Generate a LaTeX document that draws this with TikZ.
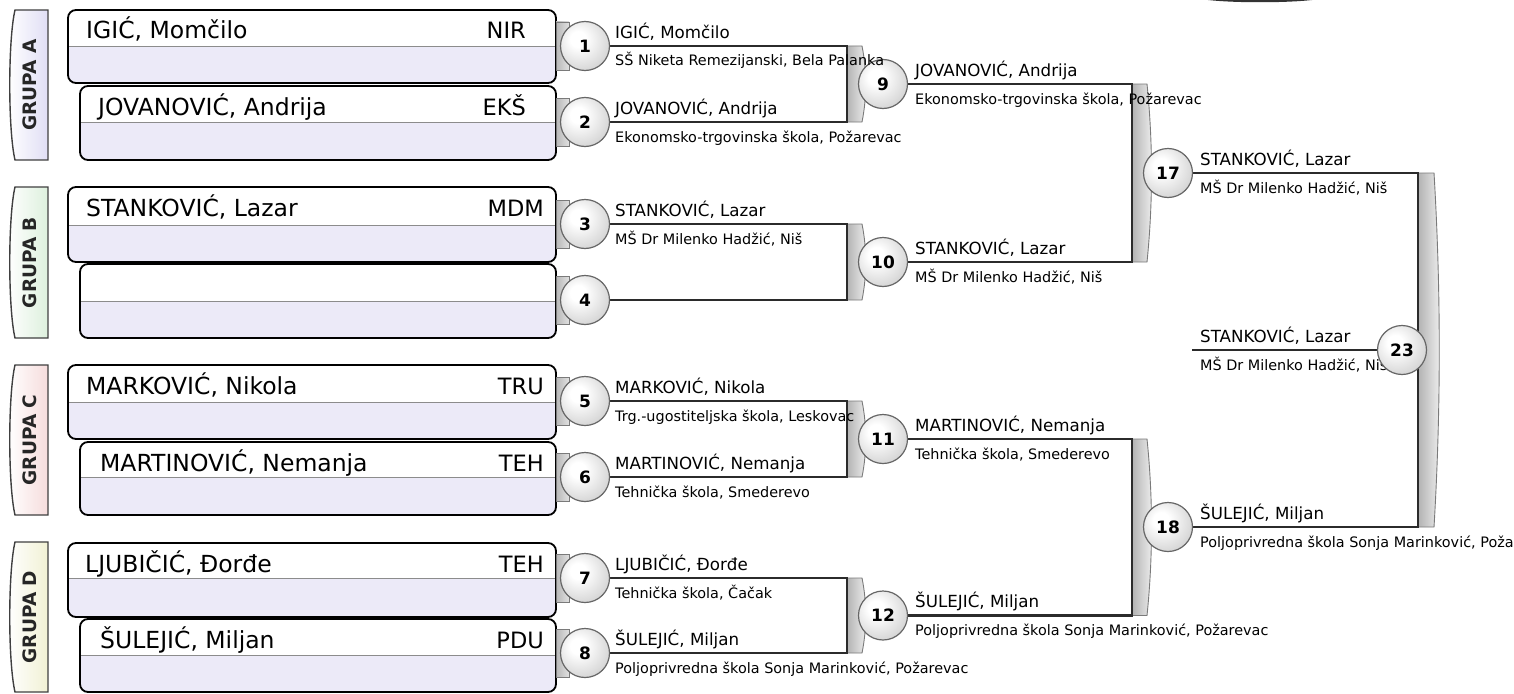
\documentclass[tikz,border=0pt]{standalone}
\usepackage{fontspec}
\setmainfont{DejaVu Sans}
\usetikzlibrary{calc}
\definecolor{lav}{HTML}{ECEAF8}
\definecolor{grpA}{HTML}{E0DEF5}
\definecolor{grpB}{HTML}{DDF0DD}
\definecolor{grpC}{HTML}{F6DCDC}
\definecolor{grpD}{HTML}{F1F1D4}
\definecolor{conncol}{HTML}{2B2B2B}
\definecolor{tabedge}{HTML}{7A7A7A}
\pgfdeclareradialshading{rball}{\pgfpoint{-8bp}{8bp}}{color(0bp)=(white); color(8bp)=(white); color(30bp)=(black!16); color(50bp)=(black!36); color(70bp)=(black!45)}
\tikzset{
  boxline/.style={draw=black, line width=1.8pt},
  divline/.style={draw=black!45, line width=1pt},
  bname/.style={inner sep=0pt, font=\fontsize{23.5}{27}\selectfont},
  bcode/.style={inner sep=0pt, font=\fontsize{22.5}{26}\selectfont},
  wname/.style={inner sep=0pt, font=\fontsize{16.7}{19}\selectfont},
  wschool/.style={inner sep=0pt, font=\fontsize{14.4}{16}\selectfont},
  rnd/.style={circle, draw=black!60, line width=1.2pt, minimum size=49pt, inner sep=0pt, shading=rball, font=\fontsize{17}{19}\bfseries\selectfont},
  conn/.style={draw=conncol, line width=2.4pt},
  smalltab/.style={draw=tabedge, line width=0.9pt, left color=black!28, right color=black!12},
  brtab/.style={draw=tabedge, line width=0.9pt, left color=black!30, right color=black!6},
  grptab/.style={draw=black!75, line width=1.4pt},
  grptext/.style={inner sep=0pt, rotate=90, font=\fontsize{18.5}{21}\bfseries\selectfont, text=black!85}
}
% #1 id, #2 left x, #3 top, #4 divider, #5 bottom, #6 text x, #7 name, #8 code, #9 code right x
\newcommand\pbox[9]{%
  \begin{scope}
    \clip[rounded corners=8pt] (#2,#3) rectangle (556,#5);
    \fill[white] (#2,#3) rectangle (556,#4);
    \fill[lav] (#2,#4) rectangle (556,#5);
    \draw[divline] (#2,#4) -- (556,#4);
  \end{scope}
  \draw[boxline, rounded corners=8pt] (#2,#3) rectangle (556,#5);
  \node[bname, anchor=base west] (#1n) at (#6,#3+29) {#7};
  \node[bcode, anchor=base east] (#1c) at (#9,#3+29) {#8};
}
% #1 id, #2 top, #3 bottom, #4 fill colour, #5 text
\newcommand\gtab[5]{%
  \path[grptab, left color=white, right color=#4]
    (48,#2) -- (15,#2) .. controls (8,#2+30) and (8,#3-30) .. (15,#3) -- (48,#3) -- cycle;
  \node[grptext] (#1) at (30,{(#2+#3)/2}) {#5};
}
% #1 x, #2 top, #3 bottom, #4 width, #5 bulge
\newcommand\btab[5]{%
  \path[brtab] (#1,#2) -- (#1+#4,#2) .. controls (#1+#4+#5,{#2+(#3-#2)/3}) and (#1+#4+#5,{#3-(#3-#2)/3}) .. (#1+#4,#3) -- (#1,#3) -- cycle;
}
% #1 id, #2 x, #3 line y, #4 name, #5 school
\newcommand\wlab[5]{%
  \node[wname, anchor=base west] (#1a) at (#2,#3-8) {#4};
  \node[wschool, anchor=base west] (#1b) at (#2,#3+20) {#5};
}
\begin{document}
\begin{tikzpicture}[x=1pt, y=-1pt]
\useasboundingbox (0,0) rectangle (1514,693);
\fill[white] (0,0) rectangle (1514,693);

% stray dark shape at top edge
\fill[black!80] (1208,0) .. controls (1235,3) and (1285,3) .. (1312,0) -- cycle;

% group tabs
\gtab{gA}{10}{160}{grpA}{GRUPA A}
\gtab{gB}{187}{338}{grpB}{GRUPA B}
\gtab{gC}{365}{515}{grpC}{GRUPA C}
\gtab{gD}{542}{692}{grpD}{GRUPA D}

% player boxes
\pbox{p1}{68}{10}{47}{83}{86}{IGIĆ, Momčilo}{NIR}{526}
\pbox{p2}{80}{86}{122}{160}{98}{JOVANOVIĆ, Andrija}{EKŠ}{526}
\pbox{p3}{68}{187}{225}{262}{86}{STANKOVIĆ, Lazar}{MDM}{544}
\pbox{p4}{80}{264}{301}{338}{98}{}{}{544}
\pbox{p5}{68}{365}{402}{439}{86}{MARKOVIĆ, Nikola}{TRU}{544}
\pbox{p6}{80}{442}{477}{515}{100}{MARTINOVIĆ, Nemanja}{TEH}{544}
\pbox{p7}{68}{543}{578}{617}{85}{LJUBIČIĆ, Đorđe}{TEH}{544}
\pbox{p8}{80}{619}{655}{692}{100}{ŠULEJIĆ, Miljan}{PDU}{544}

% small tabs at box ends
\foreach \yy in {46,122,224,300,401,477,578,653}{
  \path[smalltab] (556,\yy-24) rectangle (569,\yy+24);
}

% junction columns
\coordinate (j1) at (847,0);
\coordinate (j2) at (1132,0);
\coordinate (j3) at (1418,0);
\coordinate (f23) at (1192,350);

% circle positions
\coordinate (k1) at (585,46);
\coordinate (k2) at (585,122);
\coordinate (k3) at (585,224);
\coordinate (k4) at (585,300);
\coordinate (k5) at (585,401);
\coordinate (k6) at (585,477);
\coordinate (k7) at (585,578);
\coordinate (k8) at (585,653);
\coordinate (k9) at (883,84);
\coordinate (k10) at (883,262);
\coordinate (k11) at (883,439);
\coordinate (k12) at (883,615.5);
\coordinate (k17) at (1168,173);
\coordinate (k18) at (1168,527);
\coordinate (k23) at (1402,350);

% bracket tabs
\btab{847}{46}{122}{15}{5}
\btab{847}{224}{300}{15}{5}
\btab{847}{401}{477}{15}{5}
\btab{847}{578}{653}{15}{5}
\btab{1132}{84}{262}{15}{6}
\btab{1132}{439}{615.5}{15}{6}
\btab{1418}{173}{527}{16}{7}

% connectors
\draw[conn] (k1) -- (k1 -| j1) -- (k2 -| j1) -- (k2);
\draw[conn] (k3) -- (k3 -| j1) -- (k4 -| j1) -- (k4);
\draw[conn] (k5) -- (k5 -| j1) -- (k6 -| j1) -- (k6);
\draw[conn] (k7) -- (k7 -| j1) -- (k8 -| j1) -- (k8);
\draw[conn] (k9) -- (k9 -| j2) -- (k10 -| j2) -- (k10);
\draw[conn] (k11) -- (k11 -| j2) -- (k12 -| j2) -- (k12);
\draw[conn] (k17) -- (k17 -| j3) -- (k18 -| j3) -- (k18);
\draw[conn] (f23) -- (k23);

% circles (match circles)
\foreach \n in {1,2,3,4,5,6,7,8,9,10,11,12,17,18}{
  \node[rnd] (c\n) at (k\n) {\n};
}

% labels
\wlab{l1}{615}{46}{IGIĆ, Momčilo}{SŠ Niketa Remezijanski, Bela Palanka}
\wlab{l2}{615}{122}{JOVANOVIĆ, Andrija}{Ekonomsko-trgovinska škola, Požarevac}
\wlab{l3}{615}{224}{STANKOVIĆ, Lazar}{MŠ Dr Milenko Hadžić, Niš}
\wlab{l5}{615}{401}{MARKOVIĆ, Nikola}{Trg.-ugostiteljska škola, Leskovac}
\wlab{l6}{615}{477}{MARTINOVIĆ, Nemanja}{Tehnička škola, Smederevo}
\wlab{l7}{615}{578}{LJUBIČIĆ, Đorđe}{Tehnička škola, Čačak}
\wlab{l8}{615}{653}{ŠULEJIĆ, Miljan}{Poljoprivredna škola Sonja Marinković, Požarevac}
\wlab{l9}{915}{84}{JOVANOVIĆ, Andrija}{Ekonomsko-trgovinska škola, Požarevac}
\wlab{l10}{915}{262}{STANKOVIĆ, Lazar}{MŠ Dr Milenko Hadžić, Niš}
\wlab{l11}{915}{439}{MARTINOVIĆ, Nemanja}{Tehnička škola, Smederevo}
\wlab{l12}{915}{615.5}{ŠULEJIĆ, Miljan}{Poljoprivredna škola Sonja Marinković, Požarevac}
\wlab{l17}{1200}{173}{STANKOVIĆ, Lazar}{MŠ Dr Milenko Hadžić, Niš}
\wlab{l18}{1200}{527}{ŠULEJIĆ, Miljan}{Poljoprivredna škola Sonja Marinković, Poža}
\wlab{l23}{1200}{350}{STANKOVIĆ, Lazar}{MŠ Dr Milenko Hadžić, Niš}

% final circle on top of its label
\node[rnd] (c23) at (k23) {23};
\end{tikzpicture}
\end{document}
